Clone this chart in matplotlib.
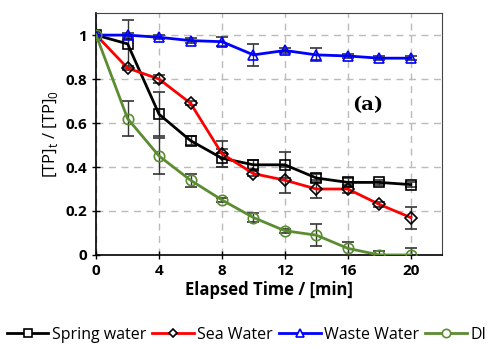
import matplotlib
matplotlib.use("Agg")
import matplotlib.pyplot as plt
from matplotlib.lines import Line2D

plt.rcParams['font.family'] = ['Open Sans', 'DejaVu Sans']

time = [0, 2, 4, 6, 8, 10, 12, 14, 16, 18, 20]

spring = [1.0, 0.96, 0.64, 0.52, 0.44, 0.41, 0.41, 0.35, 0.33, 0.33, 0.32]
spring_err = [0.0, 0.11, 0.10, 0.02, 0.04, 0.02, 0.06, 0.02, 0.02, 0.01, 0.01]

sea = [1.0, 0.85, 0.80, 0.69, 0.46, 0.37, 0.34, 0.30, 0.30, 0.23, 0.17]
sea_err = [0.0, 0.01, 0.02, 0.01, 0.06, 0.01, 0.06, 0.04, 0.02, 0.01, 0.05]

waste = [1.0, 1.0, 0.99, 0.975, 0.97, 0.91, 0.93, 0.91, 0.905, 0.895, 0.895]
waste_err = [0.0, 0.01, 0.01, 0.01, 0.02, 0.05, 0.01, 0.03, 0.01, 0.01, 0.01]

di = [1.0, 0.62, 0.45, 0.34, 0.25, 0.17, 0.11, 0.09, 0.03, 0.0, 0.0]
di_err = [0.0, 0.08, 0.08, 0.03, 0.01, 0.02, 0.01, 0.05, 0.03, 0.02, 0.03]

fig = plt.figure(figsize=(4.93, 3.45), dpi=100)
ax = fig.add_axes([0.195, 0.261, 0.702, 0.701])

series = [
    (spring, spring_err, 'Spring water', 'black', 's'),
    (sea, sea_err, 'Sea Water', 'red', 'D'),
    (waste, waste_err, 'Waste Water', 'blue', '^'),
    (di, di_err, 'DI', '#5b8c32', 'o'),
]

handles = []
for vals, err, name, col, mk in series:
    ms = 6 if mk == 'D' else 7.5
    mec = 'black' if mk == 'D' else col
    ax.errorbar(time, vals, yerr=err, color=col, lw=2, marker=mk, ms=ms,
                mfc='none', mec=mec, mew=1.2,
                ecolor='#333333', elinewidth=1, capsize=4, capthick=1,
                zorder=3)
    handles.append(Line2D([], [], color=col, lw=2, marker=mk, ms=ms - 1.5,
                          mfc='white', mec=mec, mew=1.2, label=name))

ax.set_xlim(0, 22)
ax.set_ylim(0, 1.1)
ax.set_xticks([0, 4, 8, 12, 16, 20])
ax.set_yticks([0, 0.2, 0.4, 0.6, 0.8, 1.0])
ax.set_yticklabels(['0', '0.2', '0.4', '0.6', '0.8', '1'])
ax.grid(True, color='#bbbbbb', ls=(0, (5, 4)), lw=1)
ax.set_axisbelow(True)
ax.tick_params(direction='inout', length=6, width=1, labelsize=11)
for lab in ax.get_xticklabels() + ax.get_yticklabels():
    lab.set_fontweight('bold')
for s in ['top', 'right']:
    ax.spines[s].set_color('#444444')
ax.spines['left'].set_linewidth(1.2)
ax.spines['bottom'].set_linewidth(1.2)

ax.set_xlabel('Elapsed Time / [min]', fontsize=12, fontweight='bold', labelpad=2)
ax.set_ylabel('[TP]$_\\mathregular{t}$ / [TP]$_\\mathregular{0}$', fontsize=12)
ax.text(16.3, 0.66, '(a)', fontsize=14, fontweight='bold', family='DejaVu Serif')

fig.legend(handles=handles, loc='lower center', bbox_to_anchor=(0.5, -0.035), ncol=4,
           frameon=False, fontsize=11.5, handlelength=2.6, columnspacing=0.4,
           handletextpad=0.2)

fig.savefig('out.png', dpi=100)
